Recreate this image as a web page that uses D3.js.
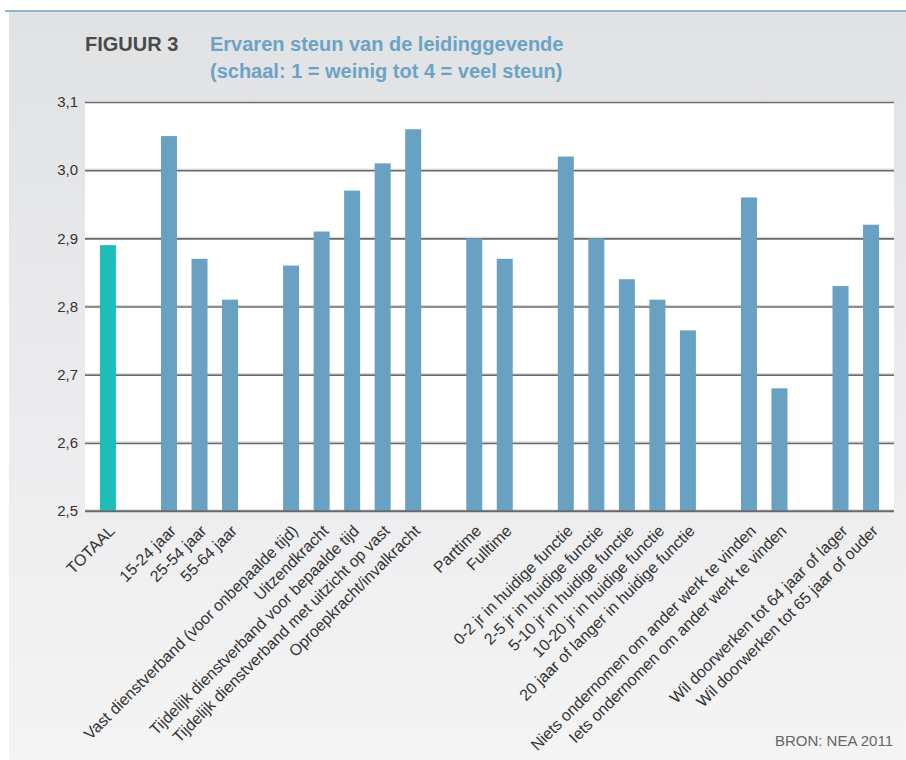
<!DOCTYPE html>
<html>
<head>
<meta charset="utf-8">
<script src="https://cdn.jsdelivr.net/npm/d3@7"></script>
<style>
  html, body { margin: 0; padding: 0; background: #fff; }
  svg { display: block; }
</style>
</head>
<body>
<div id="chart"></div>
<script>
// Bar labels, in order; null marks an empty slot between groups
const categories = [
  "TOTAAL", null,
  "15-24 jaar", "25-54 jaar", "55-64 jaar", null,
  "Vast dienstverband (voor onbepaalde tijd)", "Uitzendkracht",
  "Tijdelijk dienstverband voor bepaalde tijd",
  "Tijdelijk dienstverband met uitzicht op vast",
  "Oproepkracht/invalkracht", null,
  "Parttime", "Fulltime", null,
  "0-2 jr in huidige functie", "2-5 jr in huidige functie",
  "5-10 jr in huidige functie", "10-20 jr in huidige functie",
  "20 jaar of langer in huidige functie", null,
  "Niets ondernomen om ander werk te vinden",
  "Iets ondernomen om ander werk te vinden", null,
  "Wil doorwerken tot 64 jaar of lager", "Wil doorwerken tot 65 jaar of ouder"
];
const values = [
  2.89, null,
  3.05, 2.87, 2.81, null,
  2.86, 2.91, 2.97, 3.01, 3.06, null,
  2.90, 2.87, null,
  3.02, 2.90, 2.84, 2.81, 2.765, null,
  2.96, 2.68, null,
  2.83, 2.92
];
const yTicks = [2.5, 2.6, 2.7, 2.8, 2.9, 3.0, 3.1];

const W = 906, H = 760;
const plot = { left: 85, right: 894, top: 102, bottom: 511 };
const font = '"Liberation Sans", Arial, sans-serif';

const svg = d3.select('#chart').append('svg')
  .attr('width', W).attr('height', H);

// background panel with soft vertical gradient
const grad = svg.append('defs').append('linearGradient')
  .attr('id', 'bg').attr('x1', 0).attr('y1', 0).attr('x2', 0).attr('y2', 1);
grad.append('stop').attr('offset', '0%').attr('stop-color', '#e1e2e4');
grad.append('stop').attr('offset', '100%').attr('stop-color', '#f4f4f5');

svg.append('rect').attr('x', 9).attr('y', 11).attr('width', W - 9).attr('height', H - 11)
  .attr('fill', 'url(#bg)');
svg.append('line').attr('x1', 5).attr('x2', W).attr('y1', 11).attr('y2', 11)
  .attr('stroke', '#6b9fbf').attr('stroke-width', 1.5);

// title
svg.append('text').attr('x', 85).attr('y', 51)
  .attr('font-family', font)
  .attr('font-weight', 'bold').attr('font-size', 20).attr('fill', '#4a4a4a')
  .text('FIGUUR 3');
const title = svg.append('text')
  .attr('font-family', font)
  .attr('font-weight', 'bold').attr('font-size', 20).attr('fill', '#6aa3c5');
title.append('tspan').attr('x', 210).attr('y', 51).text('Ervaren steun van de leidinggevende');
title.append('tspan').attr('x', 210).attr('y', 78).text('(schaal: 1 = weinig tot 4 = veel steun)');

// scales
const slots = categories.map((d, i) => i);
const x = d3.scaleBand().domain(slots).range([plot.left, plot.right])
  .paddingInner(0.476).paddingOuter(0.49);
const y = d3.scaleLinear().domain([2.5, 3.1]).range([plot.bottom, plot.top]);

// white plot area
svg.append('rect').attr('x', plot.left).attr('y', plot.top)
  .attr('width', plot.right - plot.left).attr('height', plot.bottom - plot.top)
  .attr('fill', '#fff');

// gridlines via axis
const yAxis = d3.axisLeft(y).tickValues(yTicks)
  .tickSize(-(plot.right - plot.left))
  .tickFormat(d => d3.format('.1f')(d).replace('.', ','));
const gy = svg.append('g').attr('transform', `translate(${plot.left},0)`).call(yAxis);
gy.select('.domain').remove();
gy.selectAll('.tick line').attr('stroke', '#6a6a6a').attr('stroke-width', 1.6);
gy.selectAll('.tick').append('line')
  .attr('x1', 0).attr('x2', plot.right - plot.left).attr('y1', -1.5).attr('y2', -1.5)
  .attr('stroke', '#d6d6d6').attr('stroke-width', 1);
gy.selectAll('.tick text')
  .attr('x', -7).attr('dy', '0.32em')
  .attr('font-family', font)
  .attr('font-size', 15).attr('fill', '#333');

// bars
const data = slots.filter(i => values[i] != null);
svg.append('g').selectAll('rect').data(data).join('rect')
  .attr('x', i => x(i))
  .attr('width', x.bandwidth())
  .attr('y', i => y(values[i]))
  .attr('height', i => y(2.5) - y(values[i]))
  .attr('fill', i => i === 0 ? '#1ebdba' : '#68a1c1');

// redraw the baseline over bars
svg.append('line').attr('x1', plot.left).attr('x2', plot.right)
  .attr('y1', y(2.5)).attr('y2', y(2.5))
  .attr('stroke', '#6a6a6a').attr('stroke-width', 1.6);

// rotated category labels
svg.append('g').selectAll('text').data(data).join('text')
  .attr('transform', i => `translate(${x(i) + x.bandwidth() / 2 + 4},${plot.bottom + 17}) rotate(-45)`)
  .attr('text-anchor', 'end')
  .attr('dy', '0.35em')
  .attr('font-family', font)
  .attr('font-size', 16).attr('fill', '#333')
  .text(i => categories[i]);

// source
svg.append('text').attr('x', 893).attr('y', 746).attr('text-anchor', 'end')
  .attr('font-family', font)
  .attr('font-size', 15).attr('fill', '#666')
  .text('BRON: NEA 2011');
</script>
</body>
</html>
